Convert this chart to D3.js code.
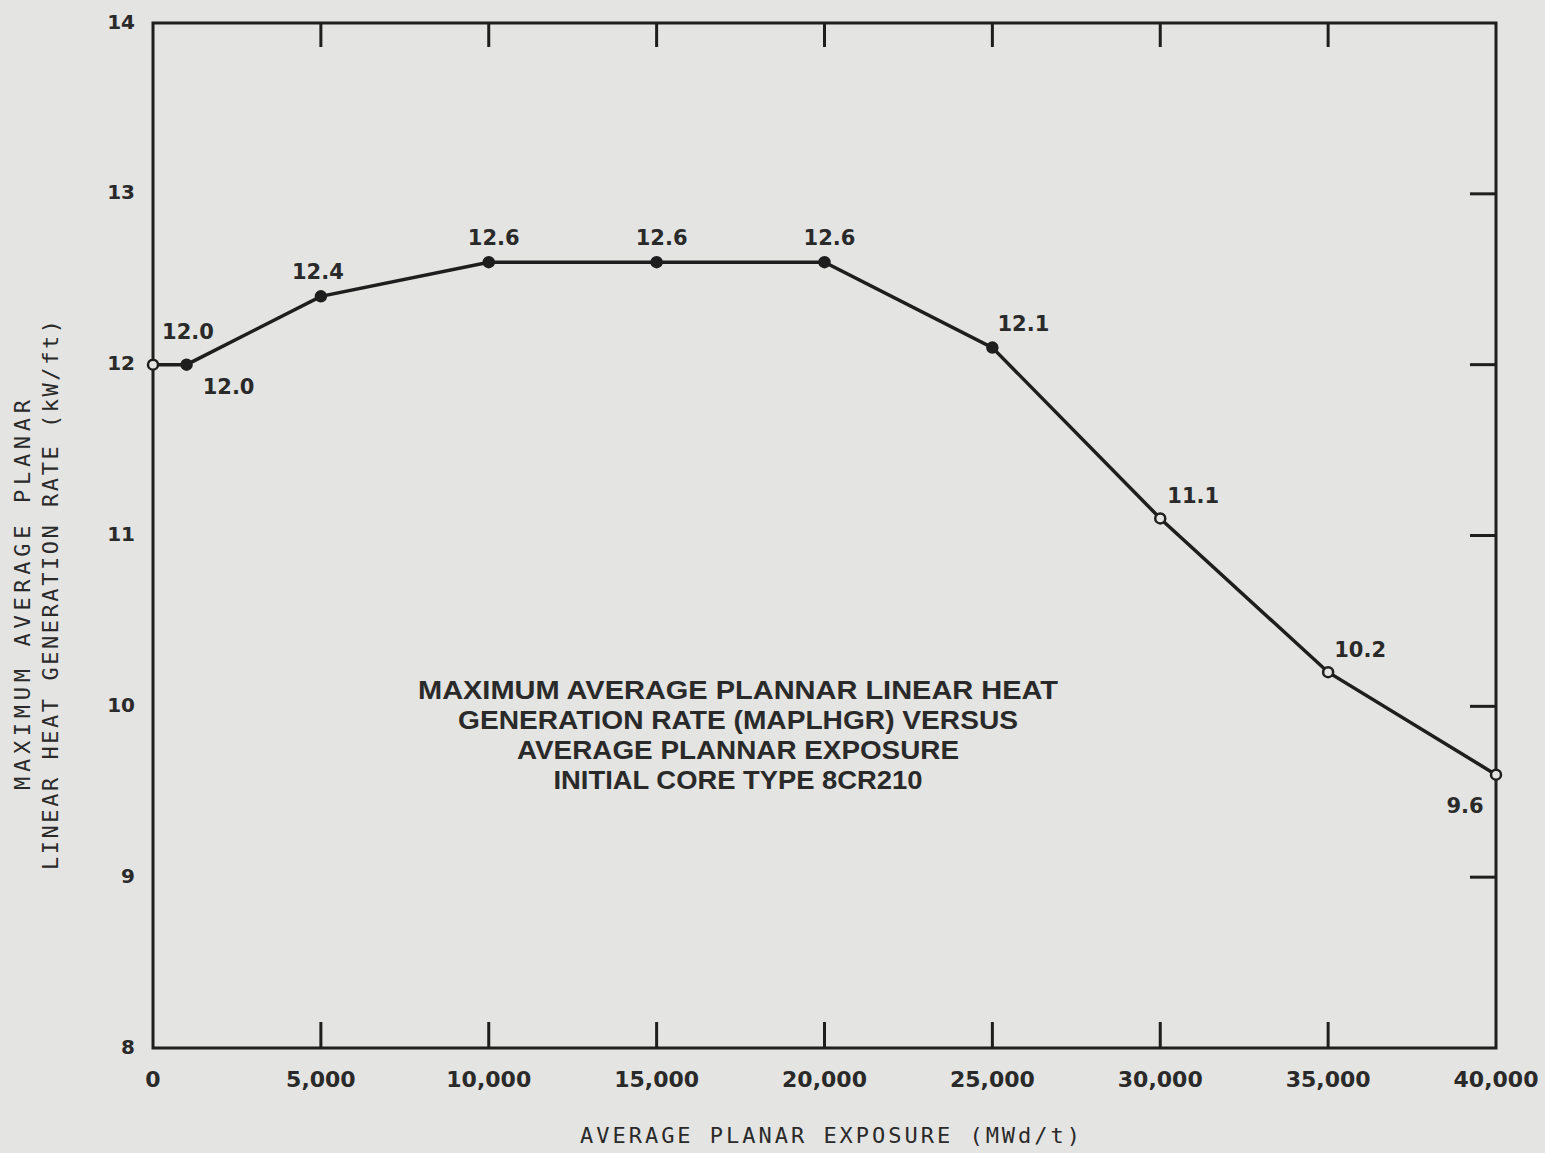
<!DOCTYPE html>
<html>
<head>
<meta charset="utf-8">
<script src="https://cdn.jsdelivr.net/npm/d3@7"></script>
<style>
  body { margin: 0; background: #e4e4e2; }
  svg { display: block; }
  .tick-lbl { font-family: "DejaVu Sans", sans-serif; font-weight: bold; fill: #2a2a2a; }
  .pt-lbl { font-family: "DejaVu Sans", sans-serif; font-weight: bold; font-size: 21px; fill: #2a2a2a; }
  .note { font-family: "Liberation Sans", Arial, sans-serif; font-weight: bold; font-size: 25px; fill: #2a2a2a; }
  .axis-title { font-family: "DejaVu Sans Mono", monospace; font-size: 22px; fill: #2a2a2a; }
</style>
</head>
<body>
<div id="chart"></div>
<script>
// data
let exposure = [0, 1000, 5000, 10000, 15000, 20000, 25000, 30000, 35000, 40000]
let maplhgr = [12.0, 12.0, 12.4, 12.6, 12.6, 12.6, 12.1, 11.1, 10.2, 9.6]
let hollow = [true, false, false, false, false, false, false, true, true, true]
let xTicks = [0, 5000, 10000, 15000, 20000, 25000, 30000, 35000, 40000]
let yTicks = [8, 9, 10, 11, 12, 13, 14]
let noteLines = [
    "MAXIMUM AVERAGE PLANNAR LINEAR HEAT",
    "GENERATION RATE (MAPLHGR) VERSUS",
    "AVERAGE PLANNAR EXPOSURE",
    "INITIAL CORE TYPE 8CR210"
]
let noteWidths = [640, 560, 442, 369]
let yTitle = ["MAXIMUM AVERAGE PLANAR", "LINEAR HEAT GENERATION RATE (kW/ft)"]
let xTitle = "AVERAGE PLANAR EXPOSURE (MWd/t)"

let width = 1545, height = 1153
let margin = {left: 153, top: 23, right: 49, bottom: 105}

let svg = d3.select("#chart").append("svg")
    .attr("width", width)
    .attr("height", height)

let x = d3.scaleLinear().domain([0, 40000]).range([margin.left, width - margin.right])
let y = d3.scaleLinear().domain([8, 14]).range([height - margin.bottom, margin.top])

let ink = "#1e1e1e"

// frame
svg.append("rect")
    .attr("x", x(0)).attr("y", y(14))
    .attr("width", x(40000) - x(0)).attr("height", y(8) - y(14))
    .attr("fill", "none").attr("stroke", ink).attr("stroke-width", 3)

// inner ticks on top, bottom and right
let innerX = xTicks.slice(1, -1)
svg.append("g").selectAll("line").data(innerX).join("line")
    .attr("x1", d => x(d)).attr("x2", d => x(d))
    .attr("y1", y(14)).attr("y2", y(14) + 24)
    .attr("stroke", ink).attr("stroke-width", 3)
svg.append("g").selectAll("line").data(innerX).join("line")
    .attr("x1", d => x(d)).attr("x2", d => x(d))
    .attr("y1", y(8)).attr("y2", y(8) - 26)
    .attr("stroke", ink).attr("stroke-width", 3)
svg.append("g").selectAll("line").data(yTicks.slice(1, -1)).join("line")
    .attr("x1", x(40000)).attr("x2", x(40000) - 26)
    .attr("y1", d => y(d)).attr("y2", d => y(d))
    .attr("stroke", ink).attr("stroke-width", 3)

// tick labels
svg.append("g").selectAll("text").data(yTicks).join("text")
    .attr("class", "tick-lbl")
    .attr("font-size", 20)
    .attr("x", x(0) - 18)
    .attr("y", d => y(d))
    .attr("text-anchor", "end")
    .attr("dominant-baseline", "middle")
    .text(d => d)

svg.append("g").selectAll("text").data(xTicks).join("text")
    .attr("class", "tick-lbl")
    .attr("font-size", 22)
    .attr("x", d => x(d))
    .attr("y", y(8) + 39)
    .attr("text-anchor", "middle")
    .text(d => d3.format(",")(d))

// curve
let line = d3.line()
    .x((d, i) => x(exposure[i]))
    .y(d => y(d))
svg.append("path")
    .datum(maplhgr)
    .attr("d", line)
    .attr("fill", "none")
    .attr("stroke", ink)
    .attr("stroke-width", 3.5)

svg.append("g").selectAll("circle").data(maplhgr).join("circle")
    .attr("cx", (d, i) => x(exposure[i]))
    .attr("cy", d => y(d))
    .attr("r", 5)
    .attr("fill", (d, i) => hollow[i] ? "#e4e4e2" : ink)
    .attr("stroke", ink)
    .attr("stroke-width", 2.5)

// value labels: offsets per point
let lblOffset = [[35, -26], [42, 29], [-3, -17], [5, -17], [5, -17], [5, -17], [31, -17], [33, -15], [32, -15], [-31, 38]]
svg.append("g").selectAll("text").data(maplhgr).join("text")
    .attr("class", "pt-lbl")
    .attr("x", (d, i) => x(exposure[i]) + lblOffset[i][0])
    .attr("y", (d, i) => y(d) + lblOffset[i][1])
    .attr("text-anchor", "middle")
    .text(d => d.toFixed(1))

// centred note
svg.append("g").selectAll("text").data(noteLines).join("text")
    .attr("class", "note")
    .attr("x", 738)
    .attr("y", (d, i) => 699 + i * 30)
    .attr("text-anchor", "middle")
    .attr("textLength", (d, i) => noteWidths[i])
    .attr("lengthAdjust", "spacingAndGlyphs")
    .text(d => d)

// axis titles
svg.append("text")
    .attr("class", "axis-title")
    .attr("x", 830).attr("y", 1143)
    .attr("text-anchor", "middle")
    .attr("textLength", 500)
    .text(xTitle)

svg.append("g").selectAll("text").data(yTitle).join("text")
    .attr("class", "axis-title")
    .attr("transform", (d, i) => `translate(${30 + i * 28}, 595) rotate(-90)`)
    .attr("text-anchor", "middle")
    .attr("textLength", (d, i) => i == 0 ? 390 : 550)
    .text(d => d)
</script>
</body>
</html>
